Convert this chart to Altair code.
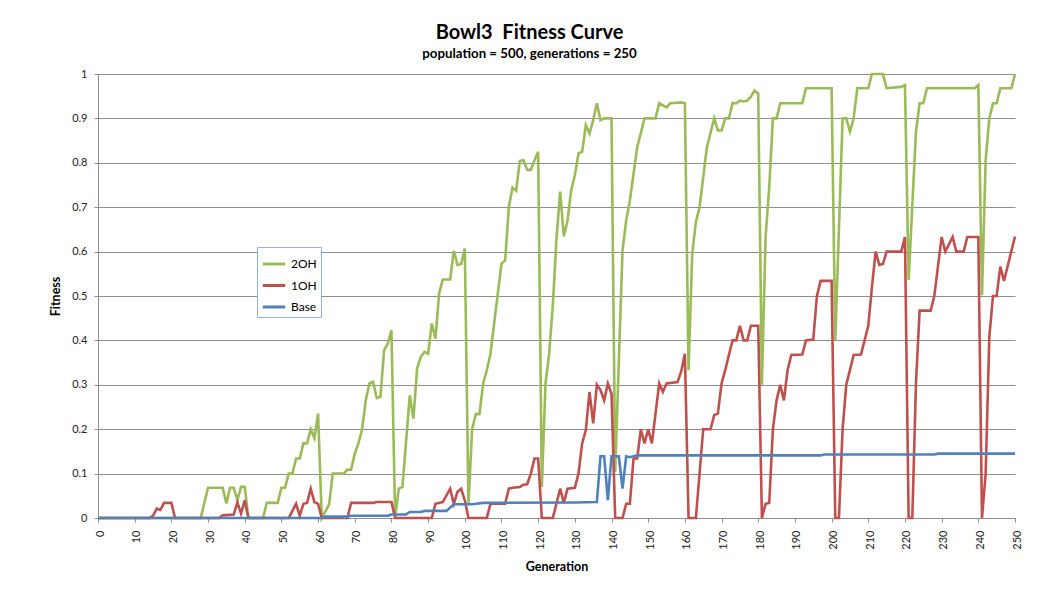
import altair as alt
import pandas as pd

series_names = ["2OH", "1OH", "Base"]
series_colors = ["#9BBB59", "#C0504D", "#4F81BD"]

gen_2oh = [0, 28, 30, 34, 35, 36, 37, 38, 39, 40, 41, 45, 46, 49, 50, 51, 52, 53, 54, 55,
           56, 57, 58, 59, 60, 61, 63, 64, 67, 68, 69, 70, 71, 72, 73, 74, 75, 76, 77, 78,
           79, 80, 81, 82, 83, 85, 86, 87, 88, 89, 90, 91, 92, 93, 94, 96, 97, 98, 99, 100,
           101, 102, 103, 104, 105, 106, 107, 108, 109, 110, 111, 112, 113, 114, 115, 116, 117, 118, 119, 120,
           121, 122, 123, 124, 125, 126, 127, 128, 129, 130, 131, 132, 133, 134, 135, 136, 137, 138, 140, 141,
           143, 144, 145, 147, 149, 152, 153, 155, 156, 159, 160, 161, 162, 163, 164, 166, 168, 169, 170, 171,
           172, 173, 174, 175, 176, 177, 178, 179, 180, 181, 182, 183, 184, 185, 186, 192, 193, 200, 201, 203,
           204, 205, 206, 207, 210, 211, 214, 215, 219, 220, 221, 223, 224, 225, 226, 239, 240, 241, 242, 243,
           244, 245, 246, 249, 250]
fit_2oh = [0, 0, 0.068, 0.068, 0.033, 0.068, 0.068, 0.04, 0.07, 0.07, 0, 0, 0.034, 0.034, 0.068, 0.068, 0.1, 0.1, 0.134, 0.134,
           0.168, 0.168, 0.2, 0.18, 0.235, 0, 0.03, 0.1, 0.1, 0.109, 0.109, 0.145, 0.168, 0.2, 0.265, 0.303, 0.307, 0.27, 0.273, 0.378,
           0.393, 0.423, 0, 0.066, 0.07, 0.276, 0.224, 0.337, 0.363, 0.374, 0.37, 0.438, 0.404, 0.506, 0.537, 0.537, 0.602, 0.57, 0.572, 0.607,
           0.033, 0.2, 0.234, 0.234, 0.303, 0.333, 0.37, 0.438, 0.506, 0.573, 0.58, 0.7, 0.744, 0.737, 0.804, 0.806, 0.784, 0.784, 0.806, 0.825,
           0.07, 0.303, 0.37, 0.48, 0.63, 0.735, 0.634, 0.67, 0.738, 0.772, 0.821, 0.825, 0.885, 0.866, 0.896, 0.934, 0.896, 0.9, 0.9, 0.104,
           0.603, 0.67, 0.715, 0.835, 0.9, 0.9, 0.934, 0.925, 0.934, 0.936, 0.934, 0.333, 0.595, 0.667, 0.7, 0.835, 0.9, 0.873, 0.873, 0.9,
           0.9, 0.935, 0.934, 0.94, 0.938, 0.94, 0.949, 0.963, 0.956, 0.3, 0.633, 0.746, 0.9, 0.9, 0.934, 0.934, 0.968, 0.968, 0.4, 0.9,
           0.9, 0.87, 0.9, 0.968, 0.968, 1.0, 1.0, 0.968, 0.971, 0.975, 0.536, 0.87, 0.934, 0.934, 0.968, 0.968, 0.975, 0.502, 0.806, 0.9,
           0.934, 0.934, 0.968, 0.968, 1.0]

gen_1oh = [0, 14, 15, 16, 17, 18, 20, 21, 33, 34, 37, 38, 39, 40, 41, 52, 54, 55, 56, 57,
           58, 59, 60, 61, 68, 69, 75, 76, 80, 81, 91, 92, 94, 96, 97, 98, 99, 100, 101, 106,
           107, 111, 112, 113, 115, 116, 117, 118, 119, 120, 121, 124, 126, 127, 128, 130, 131, 132, 133, 134,
           135, 136, 137, 138, 139, 140, 141, 143, 144, 145, 146, 147, 148, 149, 150, 151, 152, 153, 154, 155,
           158, 159, 160, 161, 163, 165, 167, 168, 169, 170, 171, 172, 173, 174, 175, 176, 177, 178, 180, 181,
           182, 183, 184, 185, 186, 187, 188, 189, 192, 193, 195, 196, 197, 200, 201, 202, 203, 204, 205, 206,
           208, 209, 210, 211, 212, 213, 214, 215, 219, 220, 221, 222, 223, 224, 227, 228, 230, 231, 233, 234,
           236, 237, 240, 241, 242, 243, 244, 245, 246, 247, 250]
fit_1oh = [0, 0, 0.005, 0.021, 0.018, 0.034, 0.034, 0, 0, 0.006, 0.008, 0.035, 0.01, 0.04, 0, 0, 0.032, 0.005, 0.032, 0.034,
           0.066, 0.036, 0.032, 0, 0, 0.034, 0.034, 0.036, 0.036, 0, 0, 0.032, 0.036, 0.066, 0.032, 0.059, 0.066, 0.04, 0, 0,
           0.032, 0.032, 0.066, 0.068, 0.07, 0.075, 0.076, 0.1, 0.134, 0.134, 0, 0, 0.066, 0.034, 0.066, 0.068, 0.1, 0.168, 0.198, 0.284,
           0.213, 0.3, 0.288, 0.265, 0.303, 0.28, 0, 0, 0.032, 0.032, 0.134, 0.134, 0.2, 0.168, 0.2, 0.168, 0.235, 0.303, 0.284, 0.303,
           0.306, 0.33, 0.37, 0, 0, 0.2, 0.2, 0.232, 0.235, 0.303, 0.333, 0.367, 0.4, 0.4, 0.433, 0.4, 0.4, 0.433, 0.433, 0,
           0.032, 0.034, 0.2, 0.265, 0.3, 0.265, 0.333, 0.367, 0.368, 0.4, 0.402, 0.5, 0.534, 0.534, 0, 0, 0.2, 0.3, 0.333, 0.367,
           0.368, 0.4, 0.433, 0.52, 0.6, 0.57, 0.572, 0.6, 0.6, 0.633, 0, 0, 0.303, 0.467, 0.467, 0.5, 0.633, 0.6, 0.633, 0.6,
           0.6, 0.633, 0.633, 0, 0.1, 0.408, 0.5, 0.5, 0.566, 0.534, 0.634]

gen_base = [0, 61, 62, 68, 69, 79, 80, 84, 85, 88, 89, 95, 97, 102, 105, 130, 136, 137, 138, 139,
            140, 142, 143, 144, 145, 146, 147, 197, 198, 228, 229, 250]
fit_base = [0, 0, 0.003, 0.003, 0.005, 0.005, 0.008, 0.008, 0.0135, 0.0135, 0.016, 0.016, 0.031, 0.031, 0.034, 0.035, 0.036, 0.139, 0.139, 0.04,
            0.139, 0.139, 0.066, 0.139, 0.137, 0.139, 0.141, 0.141, 0.143, 0.143, 0.145, 0.145]

x_ticks = list(range(0, 251, 10))
y_ticks = [round(i * 0.1, 1) for i in range(11)]

rows = []
for name, gens, vals in [("2OH", gen_2oh, fit_2oh), ("1OH", gen_1oh, fit_1oh), ("Base", gen_base, fit_base)]:
    for g, v in zip(gens, vals):
        rows.append({"Series": name, "Generation": g, "Fitness": v})
df = pd.DataFrame(rows)

FONT = "Lato"
GRID = "#8E8E8E"

x_enc = alt.X(
    "Generation:Q",
    scale=alt.Scale(domain=[0, 250], nice=False, zero=False),
    axis=alt.Axis(
        values=x_ticks, format="d", labelAngle=-90, grid=False,
        domainColor=GRID, tickColor=GRID, tickSize=4,
        labelFont=FONT, labelFontSize=11, labelColor="#222222", labelPadding=8, labelOffset=2,
        labelOverlap=False, labelFlush=False,
        title="Generation", titleFont=FONT, titleFontSize=12.5, titleFontWeight="bold",
        titleColor="#000000", titlePadding=11,
    ),
)
y_enc = alt.Y(
    "Fitness:Q",
    scale=alt.Scale(domain=[0, 1], nice=False),
    axis=alt.Axis(
        values=y_ticks, format=".1~f", grid=True, gridColor=GRID, gridWidth=1,
        domainColor=GRID, tickColor=GRID, tickSize=4,
        labelFont=FONT, labelFontSize=11, labelColor="#222222", labelPadding=7,
        labelFlush=False,
        title="Fitness", titleFont=FONT, titleFontSize=12.5, titleFontWeight="bold",
        titleColor="#000000", titlePadding=9,
    ),
)
color_enc = alt.Color(
    "Series:N",
    scale=alt.Scale(domain=series_names, range=series_colors),
    legend=alt.Legend(
        orient="none", legendX=159, legendY=173, title=None,
        symbolType="stroke", symbolStrokeWidth=3, symbolSize=500,
        labelFont=FONT, labelFontSize=12, labelColor="#000000", labelOffset=4,
        padding=4, rowPadding=2.5, strokeColor="#95B3D7", fillColor="#FFFFFF",
        cornerRadius=0, offset=0,
    ),
)

layers = []
for name in series_names:
    layers.append(
        alt.Chart(df)
        .transform_filter(alt.datum.Series == name)
        .mark_line(strokeWidth=2.6)
        .encode(x=x_enc, y=y_enc, color=color_enc)
    )

chart = (
    alt.layer(*layers)
    .properties(
        width=917,
        height=444,
        autosize=alt.AutoSizeParams(type="none"),
        padding={"left": 90, "top": 66, "right": 16, "bottom": 70},
        title=alt.TitleParams(
            text="Bowl3\u00a0 Fitness Curve",
            subtitle="population = 500, generations = 250",
            font=FONT, fontSize=20, fontWeight="bold", color="#000000",
            subtitleFont=FONT, subtitleFontSize=13.3, subtitleFontWeight="bold",
            subtitleColor="#000000", subtitlePadding=4,
            anchor="middle", dx=-27, offset=8,
        ),
    )
    .configure_view(strokeWidth=0)
)

chart.save("out.html", embed_options={"renderer": "svg", "actions": False})
